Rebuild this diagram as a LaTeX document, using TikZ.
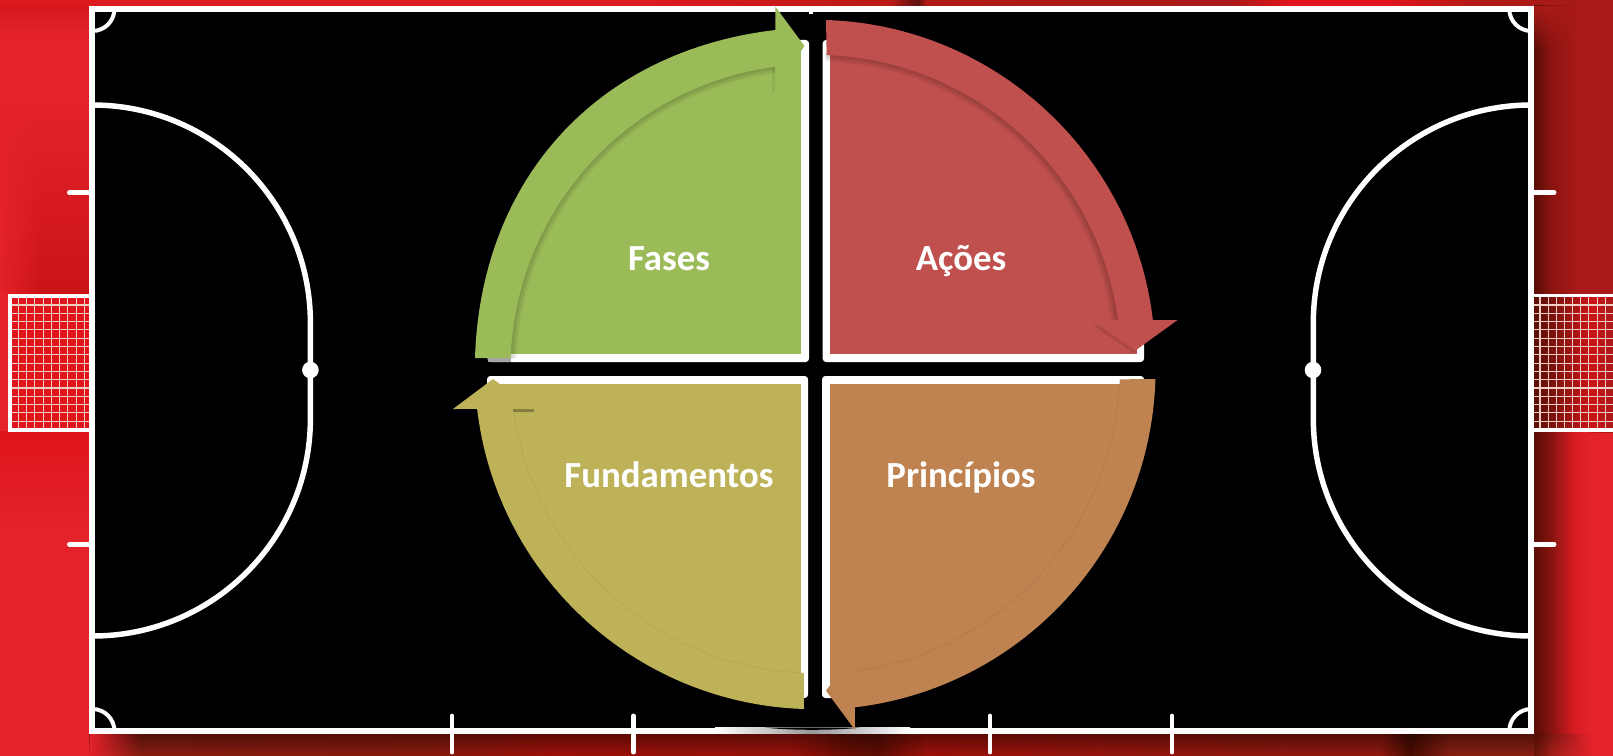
\documentclass[tikz,border=0pt]{standalone}
\usepackage{fontspec}
\setmainfont{Carlito}
\usetikzlibrary{fadings}
\definecolor{bgbright}{HTML}{E3222A}
\definecolor{bgmid}{HTML}{CB1418}
\definecolor{bgdark}{HTML}{A81A18}
\definecolor{shadowred}{HTML}{5A0E05}
\definecolor{courtblack}{HTML}{000003}
\definecolor{netline}{HTML}{F2CFC6}
\definecolor{cgreen}{HTML}{9BBB59}
\definecolor{cred}{HTML}{C0504D}
\definecolor{colive}{HTML}{BDB258}
\definecolor{corange}{HTML}{BE8350}
\definecolor{a1}{HTML}{8A1F12}\definecolor{a2}{HTML}{8A1A0E}\definecolor{a3}{HTML}{A0120A}
\definecolor{a4}{HTML}{9A120A}\definecolor{a5}{HTML}{6A0E04}\definecolor{a6}{HTML}{5E0E03}
\definecolor{a7}{HTML}{901A10}\definecolor{a8}{HTML}{4A0C02}
\definecolor{t1}{HTML}{DD1A1E}\definecolor{t2}{HTML}{B81A15}\definecolor{t3}{HTML}{5A1010}
\definecolor{t4}{HTML}{B01A15}\definecolor{t5}{HTML}{E0151B}
\definecolor{r1}{HTML}{8C1410}\definecolor{r2}{HTML}{D81C22}
\pgfdeclarehorizontalshading{bottomstrip}{100bp}{color(0bp)=(a1);color(25bp)=(a1);color(36.4bp)=(a2);color(40.4bp)=(a3);color(48.5bp)=(a4);color(50.2bp)=(a5);color(51.2bp)=(a6);color(52.9bp)=(a3);color(65.3bp)=(a7);color(68bp)=(a7);color(69bp)=(a8);color(70.3bp)=(a1);color(75bp)=(a1);color(100bp)=(a1)}
\pgfdeclarehorizontalshading{topstrip}{100bp}{color(0bp)=(t1);color(25bp)=(t1);color(45.1bp)=(t1);color(52.6bp)=(t2);color(53.45bp)=(t3);color(53.7bp)=(t4);color(63.1bp)=(bgdark);color(65bp)=(t5);color(68bp)=(t5);color(70.9bp)=(t4);color(75bp)=(bgdark);color(100bp)=(bgdark)}
\pgfdeclarehorizontalshading{rightnet}{100bp}{color(0bp)=(shadowred);color(25bp)=(shadowred);color(42bp)=(r1);color(62bp)=(bgmid);color(75bp)=(bgdark);color(100bp)=(bgdark)}
\pgfdeclarehorizontalshading{rightup}{100bp}{color(0bp)=(shadowred);color(25bp)=(shadowred);color(45bp)=(r1);color(75bp)=(bgdark);color(100bp)=(bgdark)}
\pgfdeclarehorizontalshading{rightlow}{100bp}{color(0bp)=(shadowred);color(25bp)=(shadowred);color(42bp)=(r1);color(60bp)=(r2);color(75bp)=(bgbright);color(100bp)=(bgbright)}
\tikzset{
  courtline/.style={draw=white,line width=4.5pt},
  boxline/.style={draw=white,line width=4.1pt},
  tickline/.style={draw=white,line width=3.7pt,line cap=round},
  cornerline/.style={draw=white,line width=3pt},
  netgrid/.style={draw=netline,line width=0.8pt},
  goalframe/.style={draw=white,line width=3pt},
  panelwhite/.style={fill=white,rounded corners=2.5pt},
  label/.style={text=white,font=\fontsize{27.6}{32}\selectfont\bfseries,anchor=base,inner sep=0pt},
  softedge/.style={draw=black,opacity=.022}
}
\begin{document}
\begin{tikzpicture}[x=0.75pt,y=-0.75pt]
\useasboundingbox (0,0) rectangle (1613,756);
\clip (0,0) rectangle (1613,756);
% --- background ---
\fill[bgbright] (0,0) rectangle (1613,756);
\fill[bgmid,opacity=.6,path fading=south] (0,6) rectangle (89,34);
\fill[bgmid,path fading=north] (0,110) rectangle (89,294);
\fill[bgbright,path fading=east] (0,110) rectangle (42,294);
\fill[t5] (11,294) rectangle (89,431);
\fill[t5,path fading=south] (0,431) rectangle (89,525);
\fill[shading=topstrip] (0,0) rectangle (1613,6);
\fill[bgdark] (1534,0) rectangle (1613,294);
\fill[shading=rightup] (1534,6) rectangle (1578,294);
\fill[bgdark,path fading=south] (1534,6) rectangle (1578,50);
\fill[shading=rightnet] (1534,294) rectangle (1613,432);
\fill[shading=rightlow] (1534,432) rectangle (1590,756);
\fill[shading=bottomstrip] (90,734) rectangle (1590,756);
\fill[black,opacity=.4,path fading=south] (90,734) rectangle (1590,756);
\fill[bgbright,path fading=east] (90,731) rectangle (140,756);
\fill[bgbright,path fading=west] (1535,734) rectangle (1590,756);
\fill[shadowred,opacity=.6,path fading=east] (1534,731) rectangle (1550,756);
% --- goals ---
\foreach \yy in {0,...,14} \draw[netgrid] (11,305+8.3*\yy) -- (89,305+8.3*\yy);
\foreach \xx in {0,...,8} \draw[netgrid] (18.3+8.25*\xx,296) -- (18.3+8.25*\xx,429);
\draw[goalframe] (89,296) -- (9.5,296) -- (9.5,429.7) -- (89,429.7);
\foreach \yy in {0,...,14} \draw[netgrid] (1534,305+8.3*\yy) -- (1613,305+8.3*\yy);
\foreach \xx in {0,...,8} \draw[netgrid] (1540+8.15*\xx,296) -- (1540+8.15*\xx,429);
\draw[line width=2pt,white] (1534,295.5) -- (1613,295.5);
\draw[line width=3pt,white] (1534,429.7) -- (1613,429.7);
% --- ticks outside the court ---
\draw[tickline] (90,192.7) -- (69.5,192.7);
\draw[tickline] (90,544.3) -- (69.5,544.3);
\draw[tickline] (1534,192.7) -- (1554,192.7);
\draw[tickline] (1534,544.3) -- (1554,544.3);
% --- court ---
\fill[courtblack] (92.4,9) rectangle (1531.3,731);
\draw[cornerline] (92.4,9)+(0:22) arc[start angle=0,end angle=90,radius=22];
\draw[cornerline] (1531.3,9)+(90:22) arc[start angle=90,end angle=180,radius=22];
\draw[cornerline] (92.4,731)+(270:22) arc[start angle=270,end angle=360,radius=22];
\draw[cornerline] (1531.3,731)+(180:22) arc[start angle=180,end angle=270,radius=22];
\draw[boxline] (92.4,105) arc[start angle=270,end angle=360,radius=218] -- (310.4,418.5) arc[start angle=0,end angle=90,radius=217.5];
\draw[boxline] (1531.3,105) arc[start angle=270,end angle=180,radius=218] -- (1313.3,418.5) arc[start angle=180,end angle=90,radius=217.5];
\fill[white] (310.4,370) circle[radius=8.3];
\fill[white] (1313,370) circle[radius=8.3];
\draw[courtline] (92.4,9) rectangle (1531.3,731);
\draw[tickline,line width=2.5pt,line cap=butt] (811,9) -- (811,14);
\foreach \xx in {452,633.5,990,1172} \draw[tickline] (\xx,716) -- (\xx,752);
% shadow on the bottom line
\fill[left color=white,right color=white,middle color=black!40] (715,727.8) rectangle (910,733);
\fill[courtblack] (765,727.6) .. controls (790,730.5) and (835,730.5) .. (860,727.6) -- cycle;
% --- panels ---
\begin{scope}
  \clip (815,369) circle[radius=332];
  \fill[panelwhite] (487.5,40) rectangle (809,362);
  \fill[panelwhite] (822.7,40) rectangle (1144,362);
  \fill[panelwhite] (487,376) rectangle (808,698);
  \fill[panelwhite] (822,376) rectangle (1144,698);
\end{scope}
\begin{scope}
  \clip (815,369) circle[radius=322];
  \fill[cgreen] (490,30) rectangle (801,354);
  \fill[colive] (490,384) rectangle (801,700);
  \fill[corange] (830,384) rectangle (1140,690);
\end{scope}
\begin{scope}
  \clip (815,360) circle[radius=325];
  \fill[cred] (830,30) rectangle (1137,354);
\end{scope}
% --- soft shadows along the inner edges ---
\foreach \w in {1,2,3,4,5,6,7,8}{
  \draw[softedge,line width=\w*1.3pt] (815,369)+(182:305) arc[start angle=182,end angle=262.5,radius=305];
  \draw[softedge,line width=\w*1.3pt] (815,360)+(272:305) arc[start angle=272,end angle=352.5,radius=305];
}
\draw[softedge,opacity=.05,line width=1.2pt] (815,369)+(92:304.5) arc[start angle=92,end angle=172.5,radius=304.5];
\draw[softedge,opacity=.05,line width=1.2pt] (815,369)+(2:305) arc[start angle=2,end angle=82.5,radius=305];
\fill[black!35] (487.5,358) rectangle (511,362);
\fill[black,opacity=.3] (513,409) rectangle (534,411.5);
\fill[black,opacity=.1] (1097,324) -- (1136,351) -- (1133,353) -- (1094,326) -- cycle;
\fill[black,opacity=.06] (775.4,66.7) -- (775.4,92) -- (772.4,92) -- (772.4,66.7) -- cycle;
\fill[black,opacity=.06] (855,651.7) -- (855,671.7) -- (852,671.7) -- (852,655) -- cycle;
% --- circular arrows ---
\fill[cgreen] (475,358) .. controls (480.7,179) and (597.2,51) .. (775.4,30)
  -- (775.4,6.7) -- (804.4,46) -- (775.4,89) -- (775.4,66.7)
  arc[start angle=262.46,end angle=182.07,radius=305] -- cycle;
\fill[cred] (826,20) arc[start angle=271.85,end angle=353.25,radius=340.2]
  -- (1177.6,320) -- (1136,350) -- (1097,323) -- (1118,320)
  arc[start angle=352.48,end angle=272.07,radius=305] -- cycle;
\fill[corange] (1155.4,379) arc[start angle=1.68,end angle=83.26,radius=340.7]
  -- (855,730) -- (826,690.7) -- (855,651.7) -- (855,671.7)
  arc[start angle=82.47,end angle=1.88,radius=305] -- cycle;
\fill[colive] (804,709) arc[start angle=91.85,end angle=173.25,radius=340.2]
  -- (453,409) -- (493,379) -- (534,409) -- (513,409)
  arc[start angle=172.45,end angle=92.07,radius=304.5] -- cycle;
% --- labels ---
\node[label] (fases) at (669,270) {Fases};
\node[label] (acoes) at (961,270) {Ações};
\node[label] (fundamentos) at (669,487.3) {Fundamentos};
\node[label] (principios) at (961,487.3) {Princípios};
\end{tikzpicture}
\end{document}
